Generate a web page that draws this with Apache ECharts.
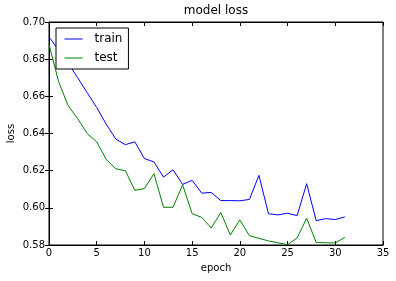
<!DOCTYPE html>
<html>
<head>
<meta charset="utf-8">
<script src="https://cdn.jsdelivr.net/npm/echarts@6/dist/echarts.min.js"></script>
<style>html,body{margin:0;padding:0;background:#fff;}#c{width:396px;height:281px;}</style>
</head>
<body>
<div id="c"></div>
<script>
var epochs = [0,1,2,3,4,5,6,7,8,9,10,11,12,13,14,15,16,17,18,19,20,21,22,23,24,25,26,27,28,29,30,31];
var trainLoss = [0.692,0.685,0.678,0.670,0.662,0.654,0.645,0.637,0.634,0.6355,0.6265,0.6247,0.6165,0.6205,0.6126,0.6148,0.6079,0.6083,0.6039,0.6039,0.6038,0.6045,0.6175,0.5968,0.5962,0.5971,0.5958,0.6130,0.5931,0.5942,0.5937,0.5951];
var testLoss = [0.688,0.668,0.655,0.648,0.640,0.6355,0.626,0.621,0.620,0.6094,0.6104,0.6184,0.6003,0.6003,0.6124,0.5968,0.5949,0.5891,0.5975,0.5854,0.5935,0.5850,0.5836,0.5822,0.5812,0.5802,0.5838,0.5944,0.5814,0.5812,0.5811,0.5841];
var xTicks = {min: 0, max: 35, interval: 5};
var yTicks = {min: 0.58, max: 0.70, interval: 0.02};

function pairs(vals){ return epochs.map(function(e,i){ return [e, vals[i]]; }); }
var FONT = 'DejaVu Sans';
var chart = echarts.init(document.getElementById('c'), null, {renderer: 'canvas'});
var tickStyle = {show: true, inside: true, length: 4, lineStyle: {color: '#000', width: 1}};
chart.setOption({
  animation: false,
  backgroundColor: '#fff',
  textStyle: {fontFamily: FONT},
  title: {
    text: 'model loss', left: 216, top: 5, textAlign: 'center', padding: 0,
    textStyle: {fontFamily: FONT, fontSize: 12, fontWeight: 'normal', color: '#000'}
  },
  grid: {left: 49, right: 13, top: 22, bottom: 36, containLabel: false, outerBoundsMode: 'none',
    show: true, borderColor: '#000', borderWidth: 1, backgroundColor: 'transparent'},
  legend: {
    orient: 'vertical', left: 56, top: 28, padding: [5, 6, 5, 8],
    itemWidth: 18, itemHeight: 12, itemGap: 7,
    itemStyle: {opacity: 0}, lineStyle: {width: 1},
    borderColor: '#000', borderWidth: 1, backgroundColor: '#fff', borderRadius: 0,
    textStyle: {fontFamily: FONT, fontSize: 12, color: '#000', padding: [0, 0, 0, 7]},
    data: ['train', 'test']
  },
  xAxis: [{
    type: 'value', min: xTicks.min, max: xTicks.max, interval: xTicks.interval,
    name: 'epoch', nameLocation: 'middle', nameGap: 18, nameMoveOverlap: false,
    nameTextStyle: {fontFamily: FONT, fontSize: 10, color: '#000'},
    axisLine: {show: true, lineStyle: {color: '#000'}},
    axisTick: tickStyle, splitLine: {show: false},
    axisLabel: {fontFamily: FONT, fontSize: 10, color: '#000', margin: 3}
  }, {
    type: 'value', position: 'top', min: xTicks.min, max: xTicks.max, interval: xTicks.interval,
    axisLine: {show: true, lineStyle: {color: '#000'}},
    axisTick: tickStyle, splitLine: {show: false}, axisLabel: {show: false}
  }],
  yAxis: [{
    type: 'value', min: yTicks.min, max: yTicks.max, interval: yTicks.interval,
    name: 'loss', nameLocation: 'middle', nameGap: 33, nameMoveOverlap: false,
    nameTextStyle: {fontFamily: FONT, fontSize: 10, color: '#000'},
    axisLine: {show: true, lineStyle: {color: '#000'}},
    axisTick: tickStyle, splitLine: {show: false},
    axisLabel: {fontFamily: FONT, fontSize: 10, color: '#000', margin: 4, formatter: function(v){ return v.toFixed(2); }}
  }, {
    type: 'value', position: 'right', min: yTicks.min, max: yTicks.max, interval: yTicks.interval,
    axisLine: {show: true, lineStyle: {color: '#000'}},
    axisTick: tickStyle, splitLine: {show: false}, axisLabel: {show: false}
  }],
  series: [{
    name: 'train', type: 'line', data: pairs(trainLoss), symbol: 'none',
    lineStyle: {color: '#0000ff', width: 1}, itemStyle: {color: '#0000ff'}, z: 3
  }, {
    name: 'test', type: 'line', data: pairs(testLoss), symbol: 'none',
    lineStyle: {color: '#008000', width: 1}, itemStyle: {color: '#008000'}, z: 2
  }]
});
</script>
</body>
</html>
